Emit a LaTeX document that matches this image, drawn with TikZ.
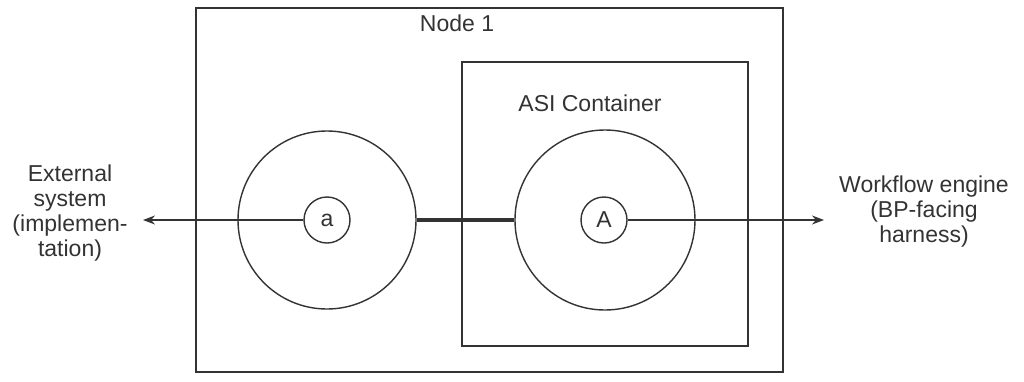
\documentclass[tikz,border=0pt]{standalone}
\usepackage{fontspec}
\setmainfont{Liberation Sans}
\usetikzlibrary{arrows.meta}
\definecolor{ink}{HTML}{333333}
\tikzset{
  box/.style={draw=ink,line width=1pt},
  ring/.style={draw=ink,circle,line width=0.7pt,inner sep=0pt},
  wire/.style={draw=ink,line width=0.6pt},
  label/.style={text=ink,font=\fontsize{11.5}{12.5}\selectfont,align=center}
}
\begin{document}
\begin{tikzpicture}[x=0.5pt,y=-0.5pt]
      \useasboundingbox (0,0) rectangle (1024,381);
      \draw[box] (196,8) rectangle (783,372);
      \draw[box] (462,62) rectangle (748,346);
      \draw
        (457,23) node[label] (node1){Node 1}
        (590,103) node[label] (asi){ASI Container}
        (327,220) node[ring,minimum size=89pt] (ca){}
        (605,220) node[ring,minimum size=90pt] (cA){}
        (327,220) node[ring,minimum size=23pt,label] (a){a}
        (604,220) node[ring,minimum size=23pt,label] (A){A}
        (70,213) node[label] (ext){External\\system\\(implemen-\\tation)}
        (924,212) node[label] (wf){Workflow engine\\(BP-facing\\harness)};
      \coordinate (extin) at (143,220);
      \coordinate (wfin) at (824,220);
      \begin{scope}[-{Stealth[length=6pt,width=4.5pt]}]
        \draw[wire] (a.west) to (extin);
        \draw[wire] (A.east) to (wfin);
      \end{scope}
      \draw[wire,line width=1.2pt] (a.west) to ++(-96,0);
      \draw[wire,line width=1.2pt] (693,220) to (743,220);
      \draw[wire,line width=1.8pt] (ca.east) to (cA.west);
    \end{tikzpicture}
\end{document}
